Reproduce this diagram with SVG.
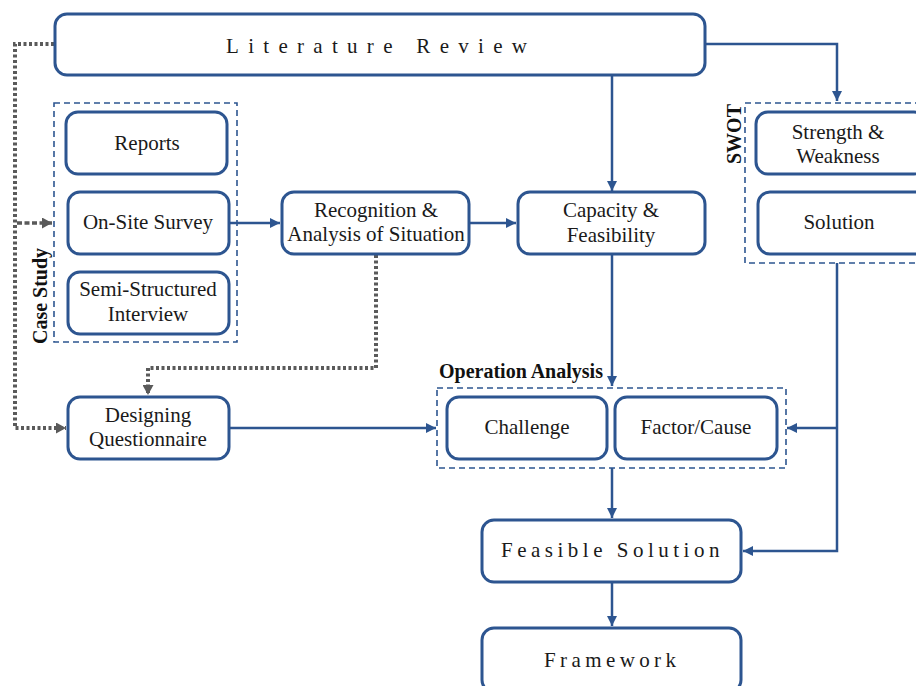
<svg xmlns="http://www.w3.org/2000/svg" width="916" height="686" viewBox="0 0 916 686">
  <defs>
    <marker id="arrow-blue" markerUnits="userSpaceOnUse" markerWidth="11" markerHeight="10" refX="10" refY="5" orient="auto">
      <path d="M0,0 L10,5 L0,10 z" fill="#2d5590"/>
    </marker>
    <marker id="arrow-gray" markerUnits="userSpaceOnUse" markerWidth="11" markerHeight="11" refX="10" refY="5.5" orient="auto">
      <path d="M0,0 L10,5.5 L0,11 z" fill="#5a5a5a"/>
    </marker>
    <style>
      .node { fill: #ffffff; stroke: #2d5590; stroke-width: 3; }
      .group { fill: none; stroke: #2d5590; stroke-width: 1.6; stroke-dasharray: 6 4; }
      .label { font-family: "Liberation Serif", "Times New Roman", serif; font-size: 21px; fill: #1a1a1a; text-anchor: middle; }
      .spaced { font-family: "Liberation Serif", "Times New Roman", serif; font-size: 21px; fill: #1a1a1a; }
      .title { font-family: "Liberation Serif", "Times New Roman", serif; font-size: 20px; font-weight: bold; fill: #111111; }
      .flow { fill: none; stroke: #2d5590; stroke-width: 2.5; marker-end: url(#arrow-blue); }
      .flow-plain { fill: none; stroke: #2d5590; stroke-width: 2.5; }
      .dotted { fill: none; stroke: #5a5a5a; stroke-width: 4; stroke-dasharray: 3 2.5; marker-end: url(#arrow-gray); }
      .dashed { fill: none; stroke: #5a5a5a; stroke-width: 3.5; stroke-dasharray: 5 2.5; marker-end: url(#arrow-gray); }
    </style>
  </defs>

  <rect width="916" height="686" fill="#ffffff"/>

  <!-- grouping frames -->
  <g id="case-study">
    <rect class="group" x="54" y="103" width="183" height="239"/>
    <text class="title" transform="translate(47,296) rotate(-90)" text-anchor="middle">Case Study</text>
  </g>
  <g id="swot">
    <rect class="group" x="745" y="103" width="180" height="160"/>
    <text class="title" transform="translate(741,134) rotate(-90)" text-anchor="middle">SWOT</text>
  </g>
  <g id="operation-analysis">
    <rect class="group" x="437" y="388" width="349" height="80"/>
    <text class="title" x="439" y="378">Operation Analysis</text>
  </g>

  <!-- connectors -->
  <g id="connectors">
    <path class="flow" d="M612,76 V191"/>
    <path class="flow" d="M706,44 H837 V101"/>
    <path class="dotted" d="M54,44 H15 V428 H66"/>
    <path class="dashed" d="M17,223 H52"/>
    <path class="flow" d="M230,223 H280"/>
    <path class="flow" d="M470,223 H516"/>
    <path class="dotted" d="M376,255 V368 H148 V395"/>
    <path class="flow" d="M612,254 V386"/>
    <path class="flow" d="M229,428 H436"/>
    <path class="flow" d="M612,468 V518"/>
    <path class="flow" d="M612,583 V626"/>
    <path class="flow" d="M837,263 V551 H743"/>
    <path class="flow" d="M837,428 H787"/>
  </g>

  <!-- nodes -->
  <g id="literature-review">
    <rect class="node" x="55" y="14" width="650" height="61" rx="12"/>
    <text class="spaced" x="226" y="53" letter-spacing="9.3">Literature Review</text>
  </g>
  <g id="reports">
    <rect class="node" x="66" y="112" width="161" height="62" rx="12"/>
    <text class="label" x="147" y="150">Reports</text>
  </g>
  <g id="on-site-survey">
    <rect class="node" x="68" y="192" width="161" height="62" rx="12"/>
    <text class="label" x="148" y="229">On-Site Survey</text>
  </g>
  <g id="semi-structured-interview">
    <rect class="node" x="68" y="272" width="161" height="62" rx="12"/>
    <text class="label" x="148" y="296">Semi-Structured</text>
    <text class="label" x="148" y="321">Interview</text>
  </g>
  <g id="recognition">
    <rect class="node" x="282" y="192" width="187" height="62" rx="12"/>
    <text class="label" x="376" y="217">Recognition &amp;</text>
    <text class="label" x="376" y="241">Analysis of Situation</text>
  </g>
  <g id="capacity">
    <rect class="node" x="518" y="192" width="187" height="62" rx="12"/>
    <text class="label" x="611" y="217">Capacity &amp;</text>
    <text class="label" x="611" y="242">Feasibility</text>
  </g>
  <g id="strength-weakness">
    <rect class="node" x="756" y="112" width="170" height="62" rx="12"/>
    <text class="label" x="838" y="139">Strength &amp;</text>
    <text class="label" x="838" y="163">Weakness</text>
  </g>
  <g id="solution">
    <rect class="node" x="758" y="192" width="170" height="62" rx="12"/>
    <text class="label" x="839" y="229">Solution</text>
  </g>
  <g id="designing-questionnaire">
    <rect class="node" x="68" y="397" width="161" height="62" rx="12"/>
    <text class="label" x="148" y="422">Designing</text>
    <text class="label" x="148" y="446">Questionnaire</text>
  </g>
  <g id="challenge">
    <rect class="node" x="447" y="397" width="160" height="62" rx="12"/>
    <text class="label" x="527" y="434">Challenge</text>
  </g>
  <g id="factor-cause">
    <rect class="node" x="615" y="397" width="162" height="62" rx="12"/>
    <text class="label" x="696" y="434">Factor/Cause</text>
  </g>
  <g id="feasible-solution">
    <rect class="node" x="482" y="520" width="259" height="62" rx="12"/>
    <text class="spaced" x="501" y="557" letter-spacing="4.5">Feasible Solution</text>
  </g>
  <g id="framework">
    <rect class="node" x="482" y="628" width="259" height="64" rx="12"/>
    <text class="spaced" x="544" y="667" letter-spacing="4.4">Framework</text>
  </g>
</svg>
